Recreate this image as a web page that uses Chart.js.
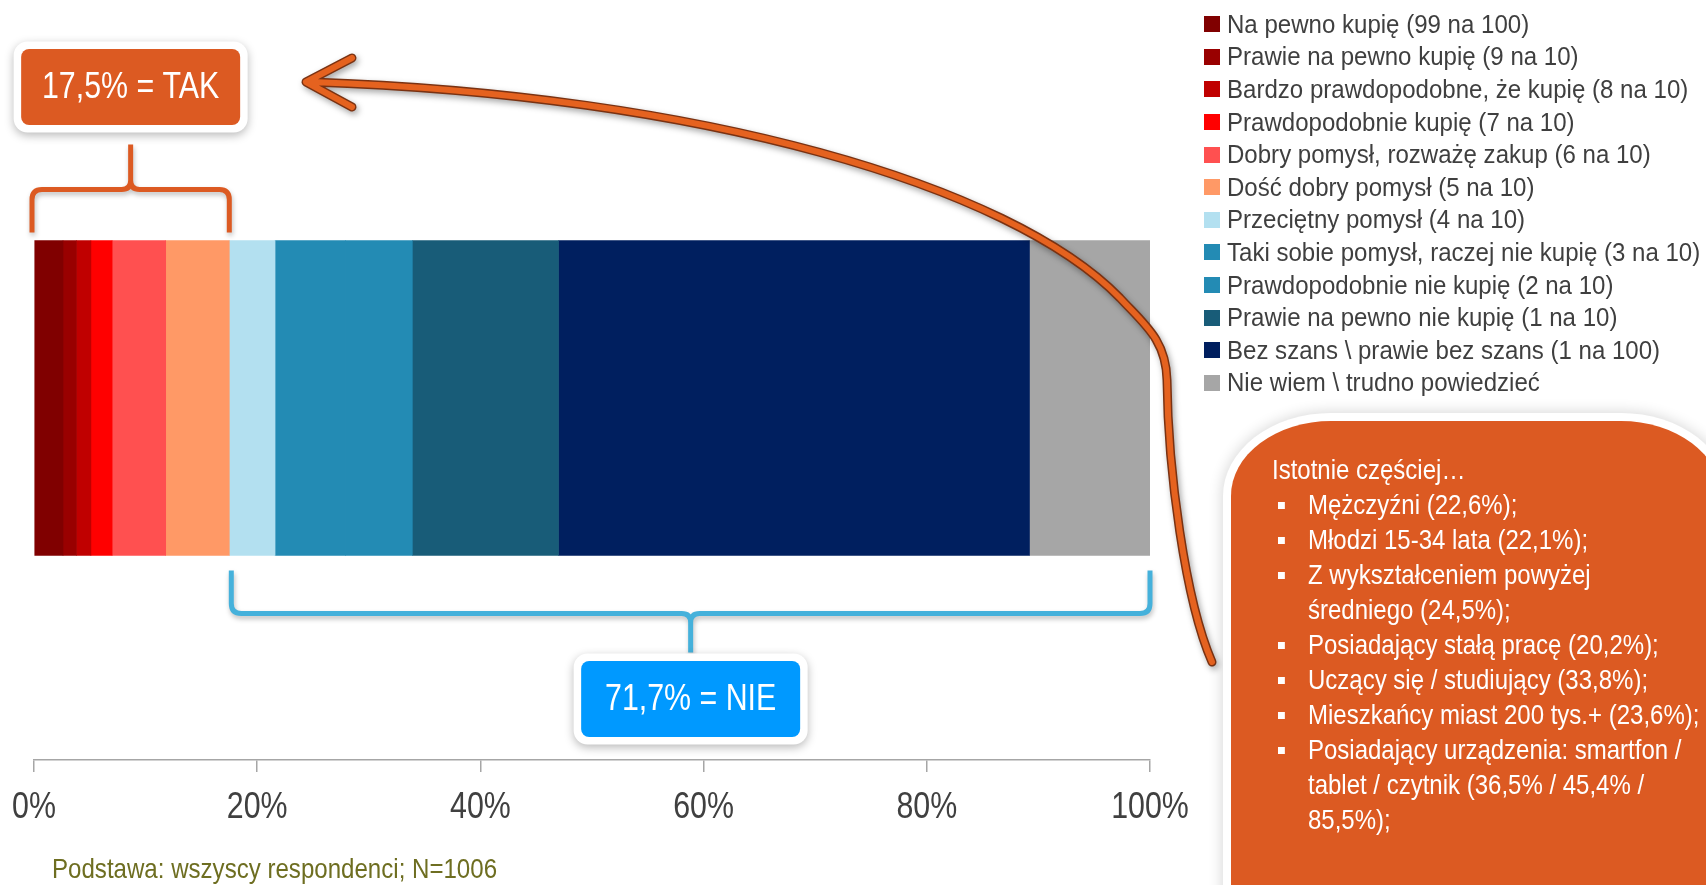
<!DOCTYPE html>
<html lang="pl">
<head>
<meta charset="UTF-8">
<title>Skłonność do zakupu</title>
<script src="https://cdn.jsdelivr.net/npm/chart.js"></script>
<style>
  body { margin: 0; background: #fff; }
  #kontener { position: relative; width: 1706px; height: 885px; overflow: hidden; font-family: "Liberation Sans", Arial, sans-serif; }
  #wykres { display: block; }
  #legenda { position: absolute; left: 1204px; top: 8px; }
  .poz { height: 32.6px; display: flex; align-items: center; white-space: nowrap; }
  .kw { width: 16px; height: 16px; flex: none; margin-right: 7px; }
  .tx { display: inline-block; font-size: 26px; color: #3F3F3F; transform: scaleX(0.925); transform-origin: left center; }
  #ramka {
    position: absolute; left: 1231px; top: 421px; width: 490px; height: 520px;
    background: #DC5A22; color: #fff;
    border-top-left-radius: 100px 75px; border-top-right-radius: 100px 75px;
    box-shadow: 0 0 0 8px #fff, 0 0 14px 9px rgba(0,0,0,0.16);
  }
  #tresc {
    position: absolute; left: 41px; top: 31px; width: 540px;
    font-size: 28px; line-height: 35px; white-space: nowrap;
    transform: scaleX(0.857); transform-origin: left top;
  }
  #tresc ul { list-style: none; margin: 0; padding: 0; }
  #tresc li { position: relative; padding-left: 42px; }
  #tresc li::before { content: ''; position: absolute; left: 7px; top: 15px; width: 8.2px; height: 7px; background: #fff; }
  #podstawa {
    position: absolute; left: 52px; top: 852px; line-height: 33px; white-space: nowrap;
    font-size: 28px; color: #6E6E21;
    transform: scaleX(0.86); transform-origin: left top;
  }
</style>
</head>
<body>
<div id="kontener">
  <canvas id="wykres" width="1706" height="885"></canvas>
  <div id="legenda"></div>
  <div id="ramka">
    <div id="tresc">
      <div>Istotnie częściej…</div>
      <ul>
        <li>Mężczyźni (22,6%);</li>
        <li>Młodzi 15-34 lata (22,1%);</li>
        <li>Z wykształceniem powyżej<br>średniego (24,5%);</li>
        <li>Posiadający stałą pracę (20,2%);</li>
        <li>Uczący się / studiujący (33,8%);</li>
        <li>Mieszkańcy miast 200 tys.+ (23,6%);</li>
        <li>Posiadający urządzenia: smartfon /<br>tablet / czytnik (36,5% / 45,4% /<br>85,5%);</li>
      </ul>
    </div>
  </div>
  <div id="podstawa">Podstawa: wszyscy respondenci; N=1006</div>
</div>

<script>
  const kategorie = [
    'Na pewno kupię (99 na 100)',
    'Prawie na pewno kupię (9 na 10)',
    'Bardzo prawdopodobne, że kupię (8 na 10)',
    'Prawdopodobnie kupię (7 na 10)',
    'Dobry pomysł, rozważę zakup (6 na 10)',
    'Dość dobry pomysł (5 na 10)',
    'Przeciętny pomysł (4 na 10)',
    'Taki sobie pomysł, raczej nie kupię (3 na 10)',
    'Prawdopodobnie nie kupię (2 na 10)',
    'Prawie na pewno nie kupię (1 na 10)',
    'Bez szans \\ prawie bez szans (1 na 100)',
    'Nie wiem \\ trudno powiedzieć'
  ];
  const wartosci = [2.6, 1.2, 1.3, 1.9, 4.8, 5.7, 4.1, 6.3, 6.0, 13.1, 42.2, 10.8];
  const kolory = ['#800000', '#990000', '#C00000', '#FF0000', '#FF5050', '#FF9966',
                  '#B3E0F0', '#238BB4', '#238BB4', '#185C78', '#001F5F', '#A6A6A6'];
  const podzialki = [0, 20, 40, 60, 80, 100];

  const czcionka = '"Liberation Sans", Arial, sans-serif';
  const zwezenie = 0.82; // imitacja Arial Narrow
  Chart.defaults.font.family = czcionka;

  const suma = (od, doo) => wartosci.slice(od, doo).reduce((a, b) => a + b, 0);
  const procent = v => v.toFixed(1).replace('.', ',') + '%';

  function tekstWaski(ctx, tekst, x, y, rozmiar, kolor) {
    ctx.save();
    ctx.translate(x, y);
    ctx.scale(zwezenie, 1);
    ctx.font = rozmiar + 'px ' + czcionka;
    ctx.fillStyle = kolor;
    ctx.textAlign = 'center';
    ctx.textBaseline = 'middle';
    ctx.fillText(tekst, 0, 0);
    ctx.restore();
  }

  // klamra: nogi od yNoga do yPoz, szpic do ySzpic
  function klamra(ctx, xa, xb, yNoga, yPoz, ySzpic, kolor) {
    const s = Math.sign(ySzpic - yPoz);
    const xs = (xa + xb) / 2;
    const r = 10, r2 = 9;
    ctx.save();
    ctx.shadowColor = 'rgba(0,0,0,0.25)';
    ctx.shadowBlur = 5;
    ctx.shadowOffsetX = 1;
    ctx.shadowOffsetY = 3;
    ctx.strokeStyle = kolor;
    ctx.lineWidth = 5;
    ctx.lineJoin = 'round';
    ctx.beginPath();
    ctx.moveTo(xa, yNoga);
    ctx.lineTo(xa, yPoz - s * r);
    ctx.quadraticCurveTo(xa, yPoz, xa + r, yPoz);
    ctx.lineTo(xs - r2, yPoz);
    ctx.quadraticCurveTo(xs, yPoz, xs, yPoz + s * r2);
    ctx.lineTo(xs, ySzpic);
    ctx.moveTo(xs, yPoz + s * r2);
    ctx.quadraticCurveTo(xs, yPoz, xs + r2, yPoz);
    ctx.lineTo(xb - r, yPoz);
    ctx.quadraticCurveTo(xb, yPoz, xb, yPoz - s * r);
    ctx.lineTo(xb, yNoga);
    ctx.stroke();
    ctx.restore();
  }

  function dymek(ctx, cx, gora, tekst, kolor) {
    ctx.save();
    ctx.shadowColor = 'rgba(0,0,0,0.28)';
    ctx.shadowBlur = 10;
    ctx.shadowOffsetY = 3;
    ctx.fillStyle = '#fff';
    ctx.beginPath();
    ctx.roundRect(cx - 117, gora, 234, 91, 14);
    ctx.fill();
    ctx.restore();
    ctx.save();
    ctx.fillStyle = kolor;
    ctx.beginPath();
    ctx.roundRect(cx - 109.5, gora + 7.5, 219, 76, 8);
    ctx.fill();
    ctx.restore();
    tekstWaski(ctx, tekst, cx, gora + 46, 37, '#fff');
  }

  function strzalka(ctx) {
    const sciezka = () => {
      ctx.beginPath();
      ctx.moveTo(1212, 662);
      ctx.bezierCurveTo(1185, 600, 1168, 470, 1167, 380);
      ctx.bezierCurveTo(1166, 340, 1145, 325, 1120, 298);
      ctx.bezierCurveTo(1010, 185, 700, 95, 312, 82);
      ctx.moveTo(352, 58);
      ctx.lineTo(306, 82);
      ctx.lineTo(352, 107);
    };
    ctx.save();
    ctx.lineCap = 'round';
    ctx.lineJoin = 'round';
    ctx.shadowColor = 'rgba(0,0,0,0.35)';
    ctx.shadowBlur = 6;
    ctx.shadowOffsetX = 2;
    ctx.shadowOffsetY = 3;
    sciezka();
    ctx.strokeStyle = '#7A3212';
    ctx.lineWidth = 9;
    ctx.stroke();
    ctx.shadowColor = 'transparent';
    sciezka();
    ctx.strokeStyle = '#E5621F';
    ctx.lineWidth = 6;
    ctx.stroke();
    ctx.restore();
  }

  const ozdoby = {
    id: 'ozdoby',
    afterDraw(chart) {
      const ctx = chart.ctx;
      const x = chart.scales.x;

      // etykiety osi X (zwężone)
      x.ticks.forEach((t, i) => {
        tekstWaski(ctx, t.value + '%', x.getPixelForTick(i), x.top + 48, 37, '#404040');
      });

      const bar = chart.getDatasetMeta(0).data[0];
      const gora = bar.y - bar.height / 2;
      const dol = bar.y + bar.height / 2;
      const tak = suma(0, 6);
      const nie = suma(6, 11);
      const x0 = x.getPixelForValue(0);
      const xTak = x.getPixelForValue(tak);
      const x100 = x.getPixelForValue(100);

      klamra(ctx, x0 - 2, xTak, gora - 8, gora - 51, gora - 96, '#DC5A22');
      klamra(ctx, xTak + 2, x100, dol + 15, dol + 58, dol + 97, '#45B1DB');
      strzalka(ctx);
      dymek(ctx, (x0 - 2 + xTak) / 2, gora - 199, procent(tak) + ' = TAK', '#DC5A22');
      dymek(ctx, (xTak + 2 + x100) / 2, dol + 98, procent(nie) + ' = NIE', '#0099FF');
    }
  };

  const ctx = document.getElementById('wykres').getContext('2d');
  const wykres = new Chart(ctx, {
    type: 'bar',
    data: {
      labels: [''],
      datasets: kategorie.map((k, i) => ({
        label: k,
        data: [wartosci[i]],
        backgroundColor: kolory[i],
        borderWidth: 0,
        barThickness: 315
      }))
    },
    options: {
      indexAxis: 'y',
      responsive: false,
      animation: false,
      layout: { padding: { left: 34, top: 36, right: 556, bottom: 113 } },
      plugins: {
        legend: { display: false },
        tooltip: { enabled: false }
      },
      scales: {
        x: {
          stacked: true,
          min: 0,
          max: 100,
          afterBuildTicks: s => { s.ticks = podzialki.map(v => ({ value: v })); },
          ticks: { display: false },
          grid: { drawOnChartArea: false, drawTicks: true, tickLength: 12, color: '#A6A6A6', lineWidth: 1.5 },
          border: { display: true, color: '#A6A6A6', width: 1.5 }
        },
        y: { stacked: true, display: false }
      }
    },
    plugins: [ozdoby]
  });

  // legenda HTML z pozycji wygenerowanych przez Chart.js
  const legenda = document.getElementById('legenda');
  Chart.defaults.plugins.legend.labels.generateLabels(wykres).forEach(p => {
    const wiersz = document.createElement('div');
    wiersz.className = 'poz';
    const kw = document.createElement('span');
    kw.className = 'kw';
    kw.style.background = p.fillStyle;
    const tx = document.createElement('span');
    tx.className = 'tx';
    tx.textContent = p.text;
    wiersz.appendChild(kw);
    wiersz.appendChild(tx);
    legenda.appendChild(wiersz);
  });
</script>
</body>
</html>
